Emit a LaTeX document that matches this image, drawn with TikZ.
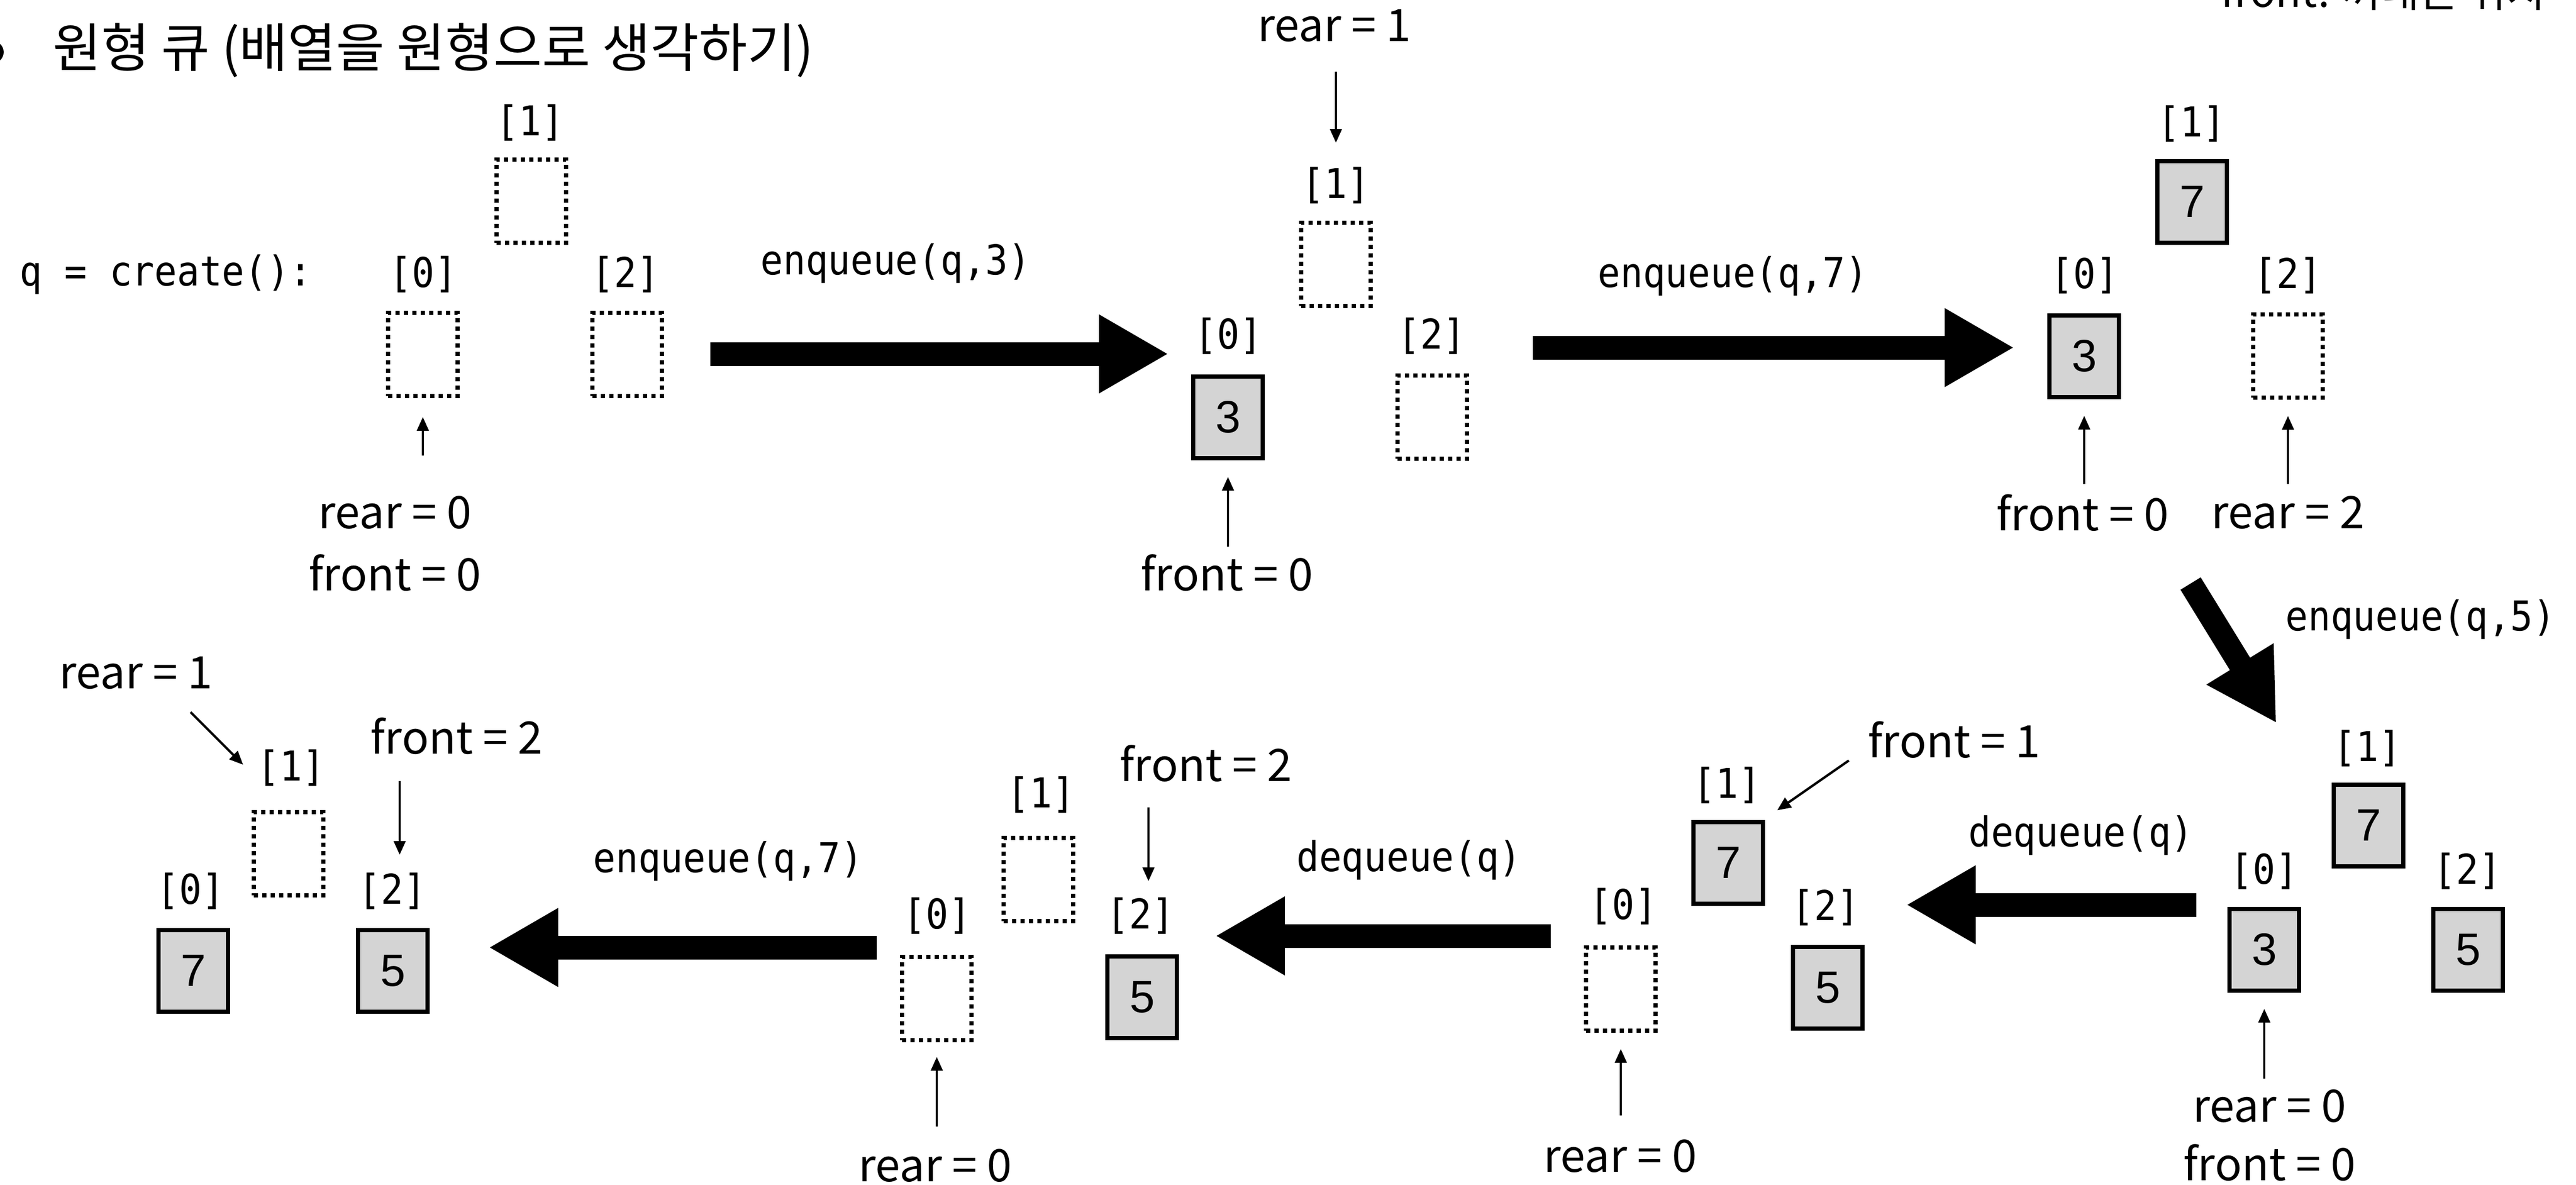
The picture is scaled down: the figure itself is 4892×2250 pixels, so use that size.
\documentclass[tikz,border=0pt]{standalone}
\usepackage{fontspec}
\setmainfont{Noto Sans CJK KR}
\newfontfamily\codefont{DejaVu Sans Mono}[FakeStretch=0.91]
\newfontfamily\numfont{Liberation Sans}
\usetikzlibrary{arrows.meta,calc}

\begin{document}
\begin{tikzpicture}[x=1pt,y=-1pt,
    valbox/.style={draw,line width=8pt,fill=black!17,minimum width=132pt,minimum height=155pt,inner sep=0pt,font=\numfont\fontsize{86}{86}\selectfont},
    nilbox/.style={draw,line width=7.5pt,dash pattern=on 8pt off 8pt,minimum width=132pt,minimum height=158pt,inner sep=0pt},
    idx/.style={inner sep=0pt,font=\codefont\fontsize{78}{78}\selectfont},
    ptrlbl/.style={inner sep=0pt,text height=56pt,text depth=0pt,font=\fontsize{85}{85}\selectfont},
    ptr/.style={line width=4.5pt,-{Triangle[length=26pt,width=22pt]}},
    bigarrow/.style={line width=45pt,-{Triangle[length=132pt,width=140pt]}}]
\useasboundingbox (0,0) rectangle (4892,2250);

% title
\node[fill,circle,inner sep=0pt,minimum size=42pt] (dot) at (-14,99) {};
\node[anchor=base west,inner sep=0pt,font=\fontsize{100}{100}\selectfont] (title) at (100,128) {원형 큐 (배열을 원형으로 생각하기)};
\node[anchor=base west,inner sep=0pt,font=\fontsize{80}{80}\selectfont] (note) at (4217,14) {front: 꺼내는 위치};

% q = create()
\node[idx] (create) at (315,521) {q = create():};
\node[nilbox] (a0) at (803,673) {};
\node[nilbox] (a1) at (1009,382) {};
\node[nilbox] (a2) at (1191,673) {};
\node[idx] (ai0) at (804,521) {[0]};
\node[idx] (ai1) at (1007,233) {[1]};
\node[idx] (ai2) at (1188,521) {[2]};
\node[ptrlbl] (ar) at (750,975) {rear = 0};
\node[ptrlbl] (af) at (750,1093) {front = 0};
\draw[ptr,shorten <=82pt,shorten >=36pt] (ar.north -| a0) -- (a0.south);

\node[idx] (op1) at (1701,500) {enqueue(q,3)};
\coordinate (s1) at (1349,672);
\coordinate (t1) at (2219,672);
\draw[bigarrow] (s1) -- (t1);

% enqueue(q,3)
\node[valbox] (b0) at (2332,792) {3};
\node[nilbox] (b1) at (2537,502) {};
\node[nilbox] (b2) at (2720,792) {};
\node[idx] (bi0) at (2333,638) {[0]};
\node[idx] (bi1) at (2537,352) {[1]};
\node[idx] (bi2) at (2719,638) {[2]};
\node[ptrlbl] (br) at (2534,51) {rear = 1};
\node[ptrlbl] (bf) at (2330,1093) {front = 0};
\draw[ptr,shorten <=57pt,shorten >=46pt] (br.south -| bi1) -- (bi1.north);
\draw[ptr,shorten <=27pt,shorten >=32pt] (bf.north -| b0) -- (b0.south);

\node[idx] (op2) at (3291,524) {enqueue(q,7)};
\coordinate (s2) at (2911,660);
\coordinate (t2) at (3825,660);
\draw[bigarrow] (s2) -- (t2);

% enqueue(q,7)
\node[valbox] (c0) at (3958,676) {3};
\node[valbox] (c1) at (4163,383) {7};
\node[nilbox] (c2) at (4345,676) {};
\node[idx] (ci0) at (3959,523) {[0]};
\node[idx] (ci1) at (4162,235) {[1]};
\node[idx] (ci2) at (4345,523) {[2]};
\node[ptrlbl] (cf) at (3955,979) {front = 0};
\node[ptrlbl] (cr) at (4345,975) {rear = 2};
\draw[ptr,shorten <=32pt,shorten >=32pt] (cf.north -| c0) -- (c0.south);
\draw[ptr,shorten <=28pt,shorten >=31pt] (cr.north -| c2) -- (c2.south);

\node[idx] (op3) at (4597,1176) {enqueue(q,5)};
\coordinate (s3) at (4160,1108);
\coordinate (t3) at (4323,1373);
\draw[bigarrow] (s3) -- (t3);

% enqueue(q,5)
\node[valbox] (d0) at (4300,1803) {3};
\node[valbox] (d1) at (4498,1567) {7};
\node[valbox] (d2) at (4687,1803) {5};
\node[idx] (di0) at (4300,1654) {[0]};
\node[idx] (di1) at (4496,1421) {[1]};
\node[idx] (di2) at (4686,1654) {[2]};
\node[ptrlbl] (dr) at (4310,2102) {rear = 0};
\node[ptrlbl] (df) at (4310,2213) {front = 0};
\draw[ptr,shorten <=26pt,shorten >=31pt] (dr.north -| d0) -- (d0.south);

\node[idx] (op4) at (3952,1586) {dequeue(q)};
\coordinate (s4) at (4171,1718);
\coordinate (t4) at (3620,1718);
\draw[bigarrow] (s4) -- (t4);

% dequeue(q)
\node[nilbox] (e0) at (3078,1878) {};
\node[valbox] (e1) at (3282,1638) {7};
\node[valbox] (e2) at (3471,1875) {5};
\node[idx] (ei0) at (3083,1721) {[0]};
\node[idx] (ei1) at (3280,1491) {[1]};
\node[idx] (ei2) at (3467,1723) {[2]};
\node[ptrlbl] (er) at (3077,2197) {rear = 0};
\node[ptrlbl] (ef) at (3711,1410) {front = 1};
\draw[ptr,shorten <=51pt,shorten >=31pt] (er.north -| e0) -- (e0.south);
\draw[ptr] ($(ef.west)+(-36,34)$) -- ($(e1.north east)+(23,-18)$);

\node[idx] (op5) at (2676,1633) {dequeue(q)};
\coordinate (s5) at (2945,1777);
\coordinate (t5) at (2308,1777);
\draw[bigarrow] (s5) -- (t5);

% dequeue(q)
\node[nilbox] (f0) at (1779,1896) {};
\node[nilbox] (f1) at (1972,1670) {};
\node[valbox] (f2) at (2169,1893) {5};
\node[idx] (fi0) at (1780,1739) {[0]};
\node[idx] (fi1) at (1977,1509) {[1]};
\node[idx] (fi2) at (2166,1739) {[2]};
\node[ptrlbl] (fr) at (1776,2215) {rear = 0};
\node[ptrlbl] (ff) at (2290,1455) {front = 2};
\draw[ptr,shorten <=48pt,shorten >=28pt] (fr.north -| f0) -- (f0.south);
\draw[ptr,shorten <=50pt,shorten >=31pt] ($(ff.south -| fi2)+(15,0)$) -- ($(fi2.north)+(15,0)$);

\node[idx] (op6) at (1383,1635) {enqueue(q,7)};
\coordinate (s6) at (1665,1799);
\coordinate (t6) at (928,1799);
\draw[bigarrow] (s6) -- (t6);

% enqueue(q,7)
\node[valbox] (g0) at (367,1843) {7};
\node[nilbox] (g1) at (548,1621) {};
\node[valbox] (g2) at (746,1843) {5};
\node[idx] (gi0) at (362,1692) {[0]};
\node[idx] (gi1) at (553,1458) {[1]};
\node[idx] (gi2) at (745,1692) {[2]};
\node[ptrlbl] (gr) at (258,1279) {rear = 1};
\node[ptrlbl] (gf) at (867,1403) {front = 2};
\draw[ptr] ($(gr.south)+(104,45)$) -- ($(gi1.west)+(-27,-6)$);
\draw[ptr,shorten <=52pt,shorten >=34pt] ($(gf.south -| gi2)+(14,0)$) -- ($(gi2.north)+(14,0)$);
\end{tikzpicture}
\end{document}
